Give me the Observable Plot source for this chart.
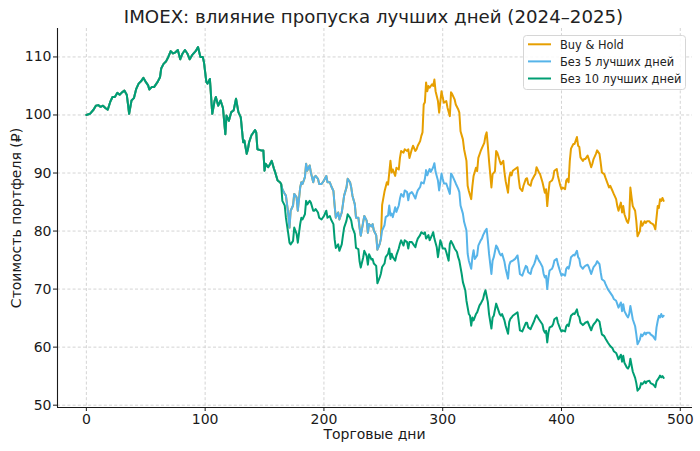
<!DOCTYPE html>
<html>
<head>
<meta charset="utf-8">
<script src="https://cdn.jsdelivr.net/npm/d3@7"></script>
<script src="https://cdn.jsdelivr.net/npm/@observablehq/plot@0.6"></script>
<style>
  html, body { margin: 0; padding: 0; background: #fff; }
  #chart { width: 700px; height: 451px; }
</style>
</head>
<body>
<div id="chart"></div>
<script>
const titleText = "IMOEX: влияние пропуска лучших дней (2024–2025)";
const xLabel = "Торговые дни";
const yLabel = "Стоимость портфеля (₽)";
const seriesNames = ["Buy & Hold", "Без 5 лучших дней", "Без 10 лучших дней"];
const seriesColors = ["#E69F00", "#56B4E9", "#009E73"];
const xTicks = [0, 100, 200, 300, 400, 500];
const yTicks = [50, 60, 70, 80, 90, 100, 110];

// Common path of all three portfolios (days 0–164)
const sharedDays = [
  0,3,6,8,10,12,14,16,18,20,
  22,24,26,28,30,32,34,35,36,38,
  40,42,44,46,48,50,52,53,55,57,
  60,62,63,65,67,69,71,73,75,77,
  79,81,83,85,87,89,92,94,96,98,
  99,101,102,104,106,108,109,111,113,115,
  117,118,120,122,124,126,128,130,132,133,
  135,136,137,139,142,143,144,147,149,150,
  151,153,154,156,158,159,161,163,164];
const sharedValues = [
  100,100.2,100.9,101.6,101.7,101.4,101.6,101.2,100.9,102.2,
  103.1,103.1,103.8,103.5,103.9,104.2,103.5,101.9,100.2,102.5,
  102.9,104.5,105.4,105.8,106.4,105.7,105.1,104.4,104.8,104.8,
  105.7,106.5,108.0,108.8,109.2,110.0,111.0,110.6,110.8,111.2,
  109.6,110.6,111.2,110.6,109.6,110.3,111.0,111.7,110.0,110.0,
  109.1,105.7,105.4,106.2,100.2,102.5,103.1,101.6,102.5,101.2,
  96.7,99.9,99.0,100.5,100.8,102.8,100.5,99.6,95.3,95.6,
  93.3,94.1,95.3,96.5,97.4,97.0,94.1,93.9,93.9,90.4,
  91.6,91.0,91.3,92.1,90.7,90.1,88.7,88.4,88.1];

// "Без 5 лучших дней" after day 164 (Buy & Hold follows it up to day 248)
const no5Days = [
  165,167,168,170,171,172,174,175,177,178,
  180,181,182,184,185,186,188,189,191,192,
  193,195,196,198,200,202,203,205,206,208,
  209,210,212,213,215,216,217,219,220,222,
  223,224,226,227,229,230,231,233,234,236,
  237,238,240,241,242,244,245,247,248,249,
  251,252,254,255,256,257,258,260,261,263,
  264,265,267,268,270,271,272,274,275,277,
  278,279,281,282,284,285,286,287,289,290,
  292,293,294,296,297,299,300,301,303,304,
  306,307,308,310,311,313,314,315,317,318,
  320,321,322,324,325,326,327,329,330,332,
  333,334,336,337,338,339,341,342,343,345,
  346,348,349,350,352,353,355,356,357,358,
  359,361,363,364,365,367,368,370,371,372,
  374,375,377,378,379,381,382,384,385,386,
  387,388,389,390,392,393,394,396,397,399,
  400,401,403,404,405,406,407,408,410,411,
  413,414,415,416,418,419,420,422,423,425,
  426,427,429,430,432,433,434,436,437,439,
  440,441,443,444,446,447,448,450,451,452,
  453,455,456,457,458,459,460,462,463,464,
  466,467,468,470,471,472,474,475,477,478,
  479,480,481,482,483,484,485,486];
const no5Values = [
  87.2,86.4,86.1,82.9,80.6,83.5,84.4,86.4,85.8,83.5,
  87.5,88.4,88.1,89.3,91.6,90.4,91.3,90.1,88.4,89.3,
  89.5,89.0,88.1,88.1,88.7,89.5,88.4,88.4,87.8,86.9,
  84.4,82.3,83.2,82.0,83.2,84.6,86.1,87.5,89.0,88.4,
  87.5,86.1,84.6,82.3,82.3,80.6,79.2,81.5,82.6,81.8,
  79.7,81.2,80.8,81.2,80.1,79.3,76.8,77.8,78.7,80.1,
  81.0,82.4,82.7,84.4,82.7,83.0,82.4,84.1,83.3,84.4,
  85.6,86.4,85.9,87.0,86.7,85.3,86.4,86.7,86.4,85.6,
  86.4,87.0,87.6,88.4,88.2,89.0,90.5,89.6,90.7,90.2,
  91.0,91.7,90.2,88.7,87.0,89.9,89.0,88.2,88.2,87.6,
  86.4,89.9,89.6,88.7,88.2,87.3,86.7,84.4,83.0,81.6,
  80.1,76.1,74.9,73.5,75.5,76.7,75.2,75.8,77.5,78.4,
  78.7,79.3,80.1,80.4,78.4,76.1,72.6,74.9,75.5,77.5,
  77.2,76.1,75.8,76.1,74.7,73.5,71.8,74.1,74.7,74.8,
  74.9,75.2,75.8,74.3,72.6,72.3,72.9,74.0,73.8,72.9,
  72.6,73.5,74.3,74.9,75.8,74.9,74.6,73.8,72.6,72.0,
  72.3,70.0,72.0,73.2,73.5,74.0,74.9,75.2,74.3,72.9,
  72.3,72.6,72.3,73.5,73.8,73.5,74.3,75.5,75.9,75.8,
  76.6,75.5,75.2,74.0,73.5,73.8,74.0,74.2,73.8,72.6,
  73.2,73.8,74.3,74.8,74.3,72.9,71.7,71.4,70.9,70.0,
  69.7,69.4,68.8,68.3,68.0,67.4,66.8,67.7,66.2,67.4,
  66.2,65.4,65.1,65.7,67.1,66.0,64.8,63.6,62.2,60.5,
  61.3,62.2,61.9,62.5,62.2,62.5,62.5,62.2,61.9,61.6,
  61.3,63.4,64.5,65.4,65.1,65.7,65.2,65.4];

// "Без 10 лучших дней" after day 164
const no10Days = [
  165,167,168,170,171,172,174,175,177,178,
  180,181,182,184,185,186,188,189,191,192,
  193,195,196,198,200,202,203,205,206,208,
  209,210,212,213,215,216,217,219,220,222,
  223,224,226,227,229,230,231,233,234,236,
  237,238,240,241,242,244,245,247,248,249,
  251,252,254,255,256,257,258,260,261,263,
  264,265,267,268,270,271,272,274,275,277,
  278,279,281,282,284,285,286,288,289,291,
  292,293,295,296,298,299,300,302,303,305,
  306,307,309,310,312,313,314,316,317,319,
  320,322,323,324,325,326,328,329,331,332,
  334,335,336,338,339,341,342,343,345,346,
  348,349,350,352,353,355,356,357,358,359,
  361,363,364,365,367,368,370,371,372,374,
  375,377,378,379,381,382,384,385,386,387,
  388,389,390,392,393,394,396,397,399,400,
  401,403,404,405,406,407,408,410,411,413,
  414,415,416,418,419,420,422,423,425,426,
  427,429,430,432,433,434,436,437,439,440,
  441,443,444,446,447,448,450,451,452,453,
  455,456,457,458,459,460,462,463,464,466,
  467,468,470,471,472,474,475,477,478,479,
  480,481,482,483,484,485,486];
const no10Values = [
  85.2,84.4,82.3,79.5,78.0,77.7,78.3,80.6,79.5,78.0,
  81.2,82.3,82.0,82.9,85.2,84.6,85.2,84.9,83.5,83.5,
  83.8,83.2,82.3,82.0,82.6,83.5,82.3,82.6,82.0,81.2,
  78.6,77.1,77.7,76.6,77.7,79.2,80.6,81.8,82.9,82.3,
  81.8,80.6,79.5,77.1,76.9,74.8,73.7,75.4,76.6,75.7,
  74.2,76.0,75.1,75.2,74.4,74.0,71.0,72.0,72.7,73.8,
  74.4,75.5,76.1,77.0,75.2,76.1,75.5,74.9,75.8,77.0,
  77.8,78.4,77.5,78.4,78.1,77.0,78.1,78.1,77.8,77.2,
  78.1,78.7,79.3,79.8,79.5,79.8,78.7,79.3,78.4,79.3,
  79.8,78.7,77.2,75.5,78.4,77.8,77.0,77.0,76.4,74.9,
  77.8,78.3,77.5,77.0,76.4,75.5,74.9,72.6,71.2,69.8,
  68.0,65.7,65.4,63.7,65.1,64.6,65.7,66.0,67.2,67.5,
  68.3,69.2,69.8,67.8,65.7,63.2,65.1,65.4,67.5,66.9,
  65.7,65.4,65.7,64.6,63.7,62.3,64.3,64.9,65.1,65.4,
  65.7,66.0,64.5,62.9,62.7,63.2,64.2,64.2,63.4,63.1,
  63.6,64.5,65.1,65.5,64.8,64.5,63.9,62.9,62.5,62.8,
  60.8,62.5,63.4,63.6,64.0,64.8,65.1,64.2,63.1,62.7,
  62.9,62.7,63.6,63.9,63.6,64.5,65.4,65.8,65.7,66.5,
  65.5,65.2,64.2,63.8,64.0,64.2,64.4,63.9,62.9,63.5,
  63.9,64.4,64.8,64.4,63.2,62.2,61.9,61.5,60.8,60.5,
  60.2,59.8,59.3,59.0,58.5,57.9,58.7,57.5,58.5,57.3,
  56.5,56.3,56.7,58.0,56.9,55.8,54.7,53.8,52.5,53.0,
  53.8,53.6,54.1,53.8,54.1,54.2,53.8,53.6,53.4,53.1,
  54.1,54.4,54.7,55.1,54.8,55.0,54.7];

// Buy & Hold after it leaves the "Без 5" path (day 249 on)
const bhSplitDay = 248;
const bhDays = [
  249,251,253,254,256,257,258,260,261,263,
  264,265,267,268,270,271,272,274,275,277,
  278,279,281,282,283,284,285,286,287,288,
  289,291,292,293,294,296,297,299,300,301,
  303,304,306,307,308,310,311,313,314,315,
  317,318,320,321,322,324,325,326,328,329,
  330,332,333,335,336,337,338,339,341,342,
  344,345,346,348,349,351,352,353,355,356,
  357,358,359,361,363,364,365,367,368,370,
  371,372,374,375,377,378,379,381,382,384,
  385,386,387,388,389,390,392,393,394,396,
  397,399,400,401,403,404,405,406,407,408,
  410,411,413,414,415,416,418,419,420,422,
  423,425,426,427,429,430,432,433,434,436,
  437,439,440,441,443,444,446,447,448,450,
  451,452,453,455,456,457,458,459,460,462,
  463,464,466,467,468,470,471,472,474,475,
  477,478,479,480,481,482,483,484,485,486];
const bhValues = [
  84.5,86.8,88.4,88.0,92.1,90.1,90.6,89.5,90.9,90.6,
  92.6,93.8,93.5,94.1,93.8,94.1,92.6,94.1,94.7,93.8,
  94.1,94.7,95.5,96.4,97.0,101.8,102.2,105.6,104.1,105.0,
  104.7,105.3,105.0,106.1,104.1,102.4,100.4,104.1,103.0,102.1,
  102.4,101.3,99.8,103.9,103.6,102.7,101.8,101.0,100.4,97.2,
  95.8,94.1,92.1,87.8,86.9,85.5,87.8,89.5,90.9,90.3,
  92.6,93.8,94.3,95.2,96.4,97.0,94.7,92.1,87.5,89.8,
  90.3,93.8,93.5,92.1,91.5,92.1,90.1,88.6,86.6,89.2,
  90.1,89.6,90.4,90.7,91.0,89.0,87.4,86.9,87.8,89.0,
  89.1,88.1,87.8,88.7,89.5,89.8,91.0,90.1,89.8,88.4,
  87.5,86.6,87.2,84.3,86.6,88.4,88.7,89.2,90.4,90.7,
  89.5,87.8,87.2,87.5,87.2,88.7,89.0,88.4,92.1,94.2,
  95.0,95.0,96.2,94.7,94.5,92.7,92.1,92.4,92.4,93.0,
  92.4,91.0,91.6,92.4,93.3,93.9,93.3,91.8,90.1,89.8,
  89.2,88.1,87.5,87.8,86.9,86.4,85.5,84.3,83.5,84.9,
  83.2,84.3,82.9,81.7,81.4,82.3,87.5,85.8,84.3,83.5,
  81.7,79.1,80.0,81.7,80.9,81.7,81.4,81.7,81.7,81.4,
  81.2,80.9,80.3,82.3,84.3,84.0,85.5,85.2,85.7,85.2];

// ---- build tables ----
function rows(days, values, name) {
  const n = Math.min(days.length, values.length);
  if (days.length !== values.length) console.warn(name, days.length, values.length);
  const out = [];
  for (let i = 0; i < n; i++) out.push({day: days[i], value: values[i], series: name});
  return out;
}
const shared = (name) => rows(sharedDays, sharedValues, name);
const no5Rows = rows(no5Days, no5Values, seriesNames[1]);
const bhData = [
  ...shared(seriesNames[0]),
  ...no5Rows.filter(d => d.day <= bhSplitDay).map(d => ({...d, series: seriesNames[0]})),
  ...rows(bhDays, bhValues, seriesNames[0])
];
const no5Data = [...shared(seriesNames[1]), ...no5Rows];
const no10Data = [...shared(seriesNames[2]), ...rows(no10Days, no10Values, seriesNames[2])];

const xDomain = [-24.3, 510.3];
const yDomain = [49.6, 114.9];
const ink = "#1a1a1a";
const gridStyle = {stroke: "#cfcfcf", strokeOpacity: 1, strokeWidth: 0.9, strokeDasharray: "3,2.2"};

const chart = Plot.plot({
  width: 700,
  height: 451,
  marginLeft: 57,
  marginRight: 8,
  marginTop: 28,
  marginBottom: 44,
  style: {fontFamily: "DejaVu Sans", fontSize: "14px", color: ink, background: "#fff"},
  x: {domain: xDomain},
  y: {domain: yDomain},
  marks: [
    Plot.gridX(xTicks, gridStyle),
    Plot.gridY(yTicks, gridStyle),
    Plot.line(bhData, {x: "day", y: "value", stroke: seriesColors[0], strokeWidth: 2, strokeLinejoin: "round"}),
    Plot.line(no5Data, {x: "day", y: "value", stroke: seriesColors[1], strokeWidth: 2, strokeLinejoin: "round"}),
    Plot.line(no10Data, {x: "day", y: "value", stroke: seriesColors[2], strokeWidth: 2, strokeLinejoin: "round"}),
    Plot.ruleX([xDomain[0]], {stroke: ink, strokeWidth: 1.1}),
    Plot.ruleY([yDomain[0]], {stroke: ink, strokeWidth: 1.1}),
    Plot.axisX(xTicks, {tickSize: 4, tickPadding: 3, fontSize: 14, label: null, stroke: ink, fill: ink}),
    Plot.axisY(yTicks, {tickSize: 4, tickPadding: 2, fontSize: 14, label: null, stroke: ink, fill: ink})
  ]
});

const svg = d3.select(chart);
// title
svg.append("text")
  .attr("x", 373.5).attr("y", 22.5)
  .attr("text-anchor", "middle")
  .attr("font-family", "DejaVu Sans").attr("font-size", 18.2)
  .attr("fill", "#222")
  .text(titleText);
// x label
svg.append("text")
  .attr("x", 374.5).attr("y", 439)
  .attr("text-anchor", "middle")
  .attr("font-family", "DejaVu Sans").attr("font-size", 14)
  .attr("fill", ink)
  .text(xLabel);
// y label
svg.append("text")
  .attr("transform", "translate(20.5,218) rotate(-90)")
  .attr("text-anchor", "middle")
  .attr("font-family", "DejaVu Sans").attr("font-size", 14)
  .attr("fill", ink)
  .text(yLabel);
// legend
const lg = svg.append("g");
lg.append("rect")
  .attr("x", 523.5).attr("y", 35.5).attr("width", 162).attr("height", 54)
  .attr("rx", 3).attr("fill", "#fff").attr("fill-opacity", 0.85)
  .attr("stroke", "#d6d6d6").attr("stroke-width", 1);
seriesNames.forEach((name, i) => {
  const y = 44.3 + i * 17.1;
  lg.append("line").attr("x1", 528).attr("x2", 551).attr("y1", y).attr("y2", y)
    .attr("stroke", seriesColors[i]).attr("stroke-width", 2);
  lg.append("text").attr("x", 560).attr("y", y + 4.2)
    .attr("text-anchor", "start")
    .attr("font-family", "DejaVu Sans").attr("font-size", 11.4)
    .attr("fill", "#222").text(name);
});

document.getElementById("chart").appendChild(chart);
</script>
</body>
</html>
